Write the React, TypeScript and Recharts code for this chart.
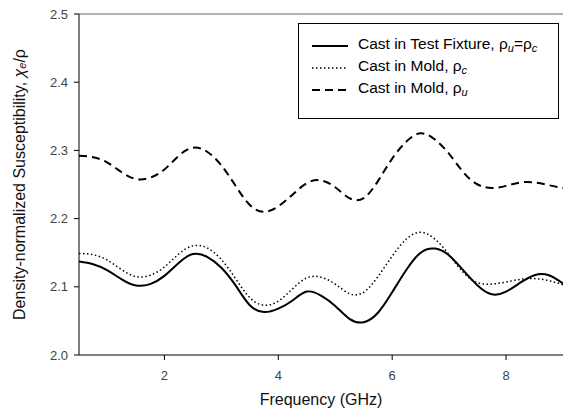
import { LineChart, Line, XAxis, YAxis, ReferenceLine, Legend } from 'recharts'

const FONT = '"Liberation Sans", Arial, sans-serif'

// frequency in GHz
const freq = [
  0.5, 0.75, 1, 1.25, 1.5, 1.75, 2, 2.25, 2.5, 2.75, 3, 3.25, 3.5, 3.75, 4, 4.25, 4.5, 4.75,
  5, 5.25, 5.5, 5.75, 6, 6.25, 6.5, 6.75, 7, 7.25, 7.5, 7.75, 8, 8.25, 8.5, 8.75, 9,
]

// cast in test fixture, rho_u = rho_c
const fixture = [
  2.137, 2.133, 2.124, 2.111, 2.102, 2.104, 2.116, 2.135, 2.148, 2.144, 2.128, 2.102, 2.073,
  2.063, 2.068, 2.08, 2.093, 2.087, 2.072, 2.053, 2.048, 2.062, 2.092, 2.125, 2.15, 2.156,
  2.146, 2.124, 2.102, 2.089, 2.093, 2.106, 2.117, 2.117, 2.105,
]

// cast in mold, rho_c
const moldC = [
  2.149, 2.147, 2.139, 2.125, 2.115, 2.117, 2.129, 2.148, 2.16, 2.157, 2.14, 2.112, 2.084,
  2.073, 2.079, 2.097, 2.113, 2.114, 2.104, 2.09, 2.092, 2.115, 2.145, 2.17, 2.18, 2.17,
  2.147, 2.121, 2.106, 2.104, 2.107, 2.111, 2.112, 2.109, 2.103,
]

// cast in mold, rho_u
const moldU = [
  2.292, 2.29, 2.282, 2.268, 2.258, 2.26, 2.272, 2.292, 2.304, 2.298, 2.278, 2.248, 2.22,
  2.21, 2.218, 2.235, 2.252, 2.256, 2.246, 2.23, 2.23, 2.255, 2.288, 2.313, 2.325, 2.316,
  2.295, 2.268, 2.25, 2.245, 2.248, 2.253, 2.253, 2.249, 2.245,
]

const xTicks = [2, 4, 6, 8]
const yTicks = [2.0, 2.1, 2.2, 2.3, 2.4, 2.5]

const data = freq.map((f, i) => ({
  f,
  fixture: fixture[i],
  moldC: moldC[i],
  moldU: moldU[i],
}))

const sub = (s: string) => (
  <sub style={{ fontStyle: 'italic', fontSize: 11, verticalAlign: -3 }}>{s}</sub>
)

function LegendBox() {
  const rows = [
    { dash: undefined, w: 2, label: <>Cast in Test Fixture, ρ{sub('u')}=ρ{sub('c')}</> },
    { dash: '1.5 2.5', w: 1.5, label: <>Cast in Mold, ρ{sub('c')}</> },
    { dash: '8 5', w: 2, label: <>Cast in Mold, ρ{sub('u')}</> },
  ]
  return (
    <div
      style={{
        border: '1px solid #000',
        background: '#fff',
        padding: '11px 0 0 13px',
        boxSizing: 'border-box',
        width: 261,
        height: 96,
        fontFamily: FONT,
        fontSize: 15.5,
        color: '#000',
      }}
    >
      {rows.map((r, i) => (
        <div key={i} style={{ display: 'flex', alignItems: 'center', height: 22 }}>
          <svg width={36} height={6} style={{ marginRight: 10 }}>
            <line x1={0} x2={36} y1={3} y2={3} stroke="#000" strokeWidth={r.w} strokeDasharray={r.dash} />
          </svg>
          <span style={{ lineHeight: '17px' }}>{r.label}</span>
        </div>
      ))}
    </div>
  )
}

function YTitle(props: any) {
  const vb = props.viewBox || { x: 0, y: 14, width: 79, height: 341 }
  const cx = 19
  const cy = vb.y + vb.height / 2
  return (
    <text
      x={cx}
      y={cy}
      transform={`rotate(-90 ${cx} ${cy})`}
      textAnchor="middle"
      dominantBaseline="central"
      fontFamily={FONT}
      fontSize={16}
      fill="#111"
    >
      Density-normalized Susceptibility,{' '}
      <tspan fontStyle="italic">χ</tspan>
      <tspan fontStyle="italic" fontSize={11} dy={3}>e</tspan>
      <tspan dy={-3}>/ρ</tspan>
    </text>
  )
}

export default function App() {
  return (
    <div style={{ width: 563, height: 411, background: '#fff' }}>
      <style>{'body{margin:0}'}</style>
      <LineChart width={563} height={411} data={data} margin={{ top: 14, right: 0, bottom: 0, left: 0 }}>
        <XAxis
          dataKey="f"
          type="number"
          domain={[0.5, 9]}
          ticks={xTicks}
          height={56}
          allowDataOverflow
          stroke="#000"
          tickSize={5}
          tickMargin={11}
          tick={{ fontSize: 13, fill: '#444', fontFamily: FONT }}
          label={{
            value: 'Frequency (GHz)',
            position: 'insideBottom',
            offset: 6,
            style: { fontSize: 16, fill: '#111', fontFamily: FONT },
          }}
        />
        <YAxis
          type="number"
          domain={[2.0, 2.5]}
          ticks={yTicks}
          width={79}
          allowDataOverflow
          stroke="#000"
          tickSize={5}
          tickMargin={6}
          tickFormatter={(v) => Number(v).toFixed(1)}
          tick={{ fontSize: 13, fill: '#444', fontFamily: FONT }}
          label={<YTitle />}
        />
        <ReferenceLine y={2.5} stroke="#666" />
        <Legend
          layout="vertical"
          align="center"
          verticalAlign="middle"
          content={() => <LegendBox />}
          wrapperStyle={{ top: 23, left: 298, width: 261, height: 96 }}
        />
        <Line dataKey="fixture" type="natural" stroke="#000" strokeWidth={2} dot={false} isAnimationActive={false} />
        <Line
          dataKey="moldC"
          type="natural"
          stroke="#000"
          strokeWidth={1.5}
          strokeDasharray="1.5 2.5"
          dot={false}
          isAnimationActive={false}
        />
        <Line
          dataKey="moldU"
          type="natural"
          stroke="#000"
          strokeWidth={2}
          strokeDasharray="8 5"
          dot={false}
          isAnimationActive={false}
        />
      </LineChart>
    </div>
  )
}
